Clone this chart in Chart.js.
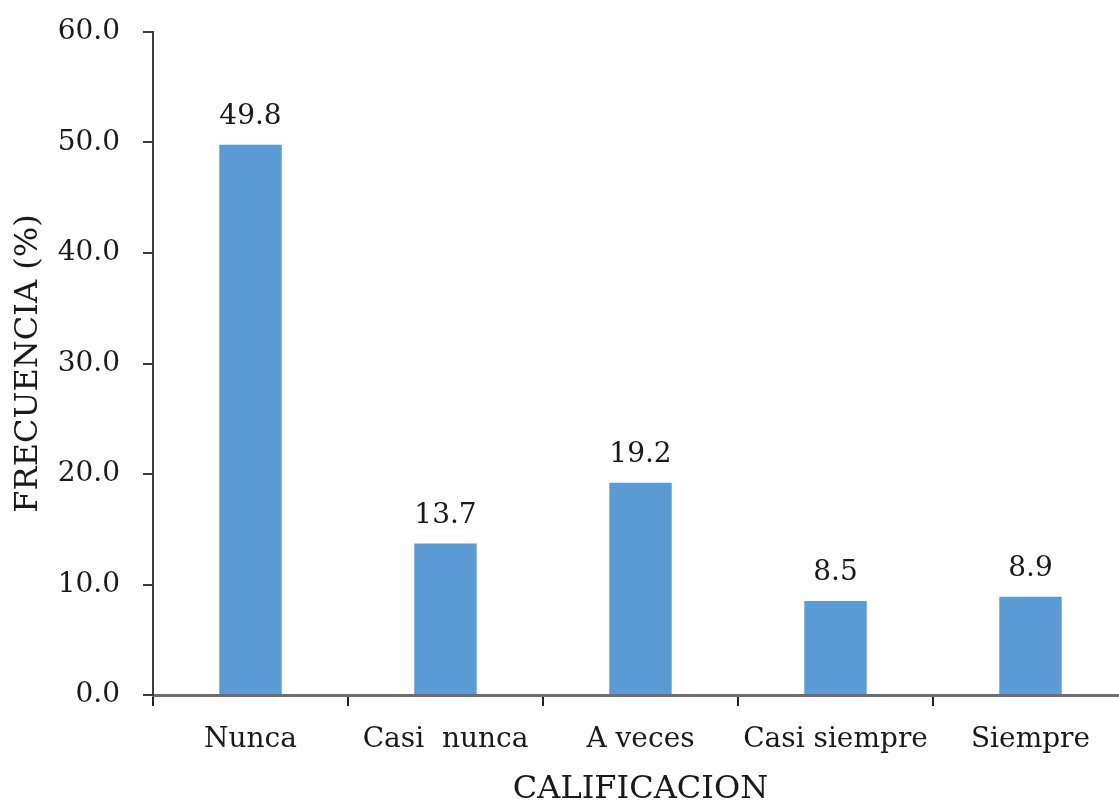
<!DOCTYPE html>
<html>
<head>
<meta charset="utf-8">
<script src="https://cdn.jsdelivr.net/npm/chart.js@4"></script>
<style>
  html, body { margin: 0; padding: 0; background: #fff; overflow: hidden; }
  #wrap { width: 1135px; height: 809px; }
</style>
</head>
<body>
<div id="wrap"><canvas id="grafico"></canvas></div>
<script>
// categorias y porcentajes
const categorias = ['Nunca', 'Casi  nunca', 'A veces', 'Casi siempre', 'Siempre'];
const frecuencias = [49.8, 13.7, 19.2, 8.5, 8.9];
const ticksY = [0, 10, 20, 30, 40, 50, 60];

const fuente = "'DejaVu Serif', 'Liberation Serif', serif";
Chart.defaults.font.family = fuente;
Chart.defaults.color = '#1a1a1a';

// etiqueta del valor encima de cada barra
const etiquetasValor = {
    id: 'etiquetasValor',
    afterDatasetsDraw(chart) {
        const c = chart.ctx;
        const meta = chart.getDatasetMeta(0);
        c.save();
        c.font = '28px ' + fuente;
        c.fillStyle = '#1a1a1a';
        c.textAlign = 'center';
        c.textBaseline = 'alphabetic';
        meta.data.forEach((bar, i) => {
            c.fillText(frecuencias[i].toFixed(1), bar.x, bar.y - 21);
        });
        c.restore();
    }
};

new Chart(document.getElementById('grafico'), {
    type: 'bar',
    data: {
        labels: categorias,
        datasets: [{
            data: frecuencias,
            backgroundColor: '#5B9BD5',
            borderWidth: 0,
            categoryPercentage: 1,
            barPercentage: 0.32
        }]
    },
    options: {
        responsive: true,
        maintainAspectRatio: false,
        animation: false,
        layout: { padding: { top: 32, right: 7, left: 0, bottom: 0 } },
        plugins: { legend: { display: false }, tooltip: { enabled: false } },
        scales: {
            x: {
                grid: { display: true, drawOnChartArea: false, offset: true, tickLength: 11, color: '#222', lineWidth: 2 },
                border: { display: true, color: '#6e6e6e', width: 3 },
                ticks: { font: { size: 28 }, color: '#1a1a1a', padding: 17, maxRotation: 0, autoSkip: false },
                title: { display: true, text: 'CALIFICACION', font: { size: 32 }, color: '#1a1a1a', padding: { top: 0, bottom: 0 } },
                afterFit(scale) { scale.height = 114; }
            },
            y: {
                min: 0,
                max: 60,
                afterBuildTicks(scale) { scale.ticks = ticksY.map(v => ({ value: v })); },
                grid: { display: true, drawOnChartArea: false, tickLength: 10, color: '#3a3a3a', lineWidth: 2 },
                border: { display: true, color: '#3a3a3a', width: 2 },
                ticks: { font: { size: 28 }, color: '#1a1a1a', padding: 23, callback: v => v.toFixed(1) },
                title: { display: true, text: 'FRECUENCIA (%)', font: { size: 32 }, color: '#1a1a1a', padding: { top: 9, bottom: 0 } },
                afterFit(scale) {
                    scale.width = 153;
                    scale.paddingTop = 0;
                    scale.paddingBottom = 0;
                }
            }
        }
    },
    plugins: [etiquetasValor]
});
</script>
</body>
</html>
